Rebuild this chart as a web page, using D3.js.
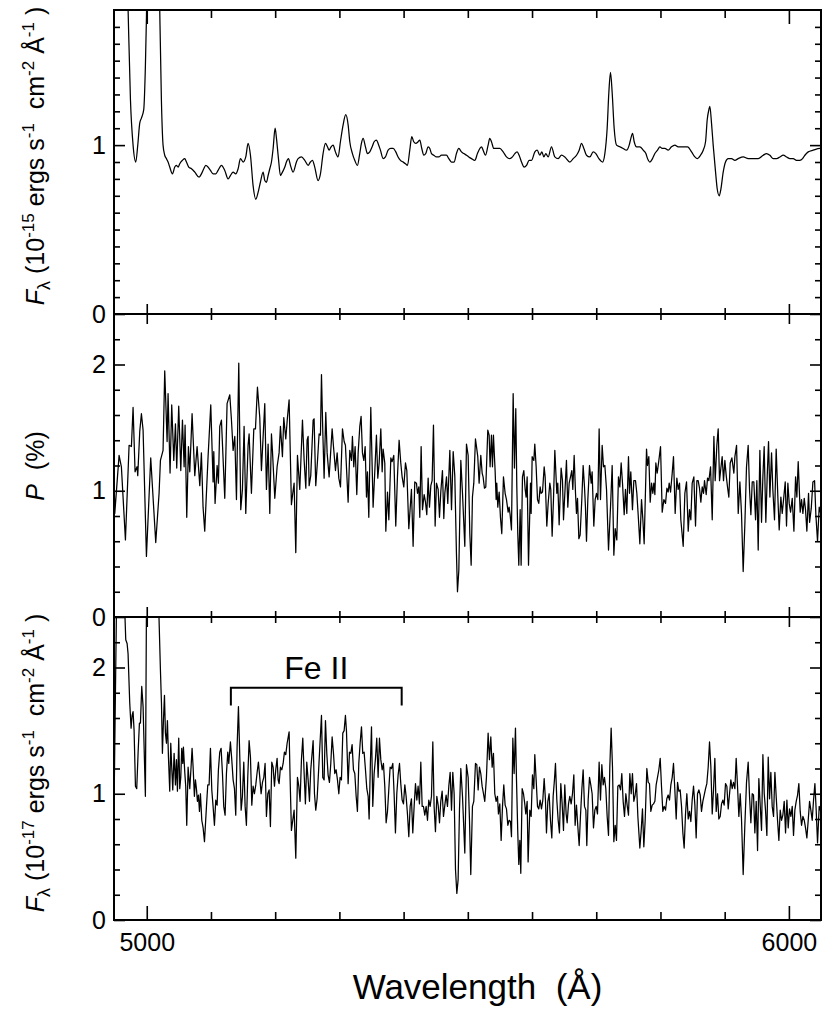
<!DOCTYPE html>
<html>
<head>
<meta charset="utf-8">
<script src="https://cdn.jsdelivr.net/npm/d3@7"></script>
<style>
  body { margin: 0; background: #fff; }
  svg text { font-family: 'Liberation Sans', Arial, Helvetica, sans-serif; fill: #000; }
</style>
</head>
<body>
<div id="chart"></div>
<script>
// ── Data: [wavelength (Å), value] ──

// Total flux, 10^-15 ergs s^-1 cm^-2 Å^-1 (the two [O III] peaks run off the top)
const totalFlux = [
  [4949,2.6],[4955,3.4],[4962,3.4],[4967,2.4],[4970.9,1.81],[4974.6,1.27],[4978.7,1.00],[4982.9,0.90],[4986.0,1.00],
  [4989.1,1.13],[4991.7,1.16],[4995.3,1.21],[4997.9,1.47],[4999.5,1.75],[5003,2.6],[5010,4.2],[5017,2.6],[5020.2,1.81],
  [5022.8,1.27],[5025.4,1.00],[5028.0,0.94],[5030.6,0.92],[5033.2,0.90],[5035.8,0.87],[5040.0,0.83],[5043.6,0.87],
  [5046.2,0.88],[5048.8,0.87],[5051.4,0.89],[5055.6,0.91],[5059.2,0.92],[5061.8,0.90],[5065.4,0.87],[5069.6,0.86],
  [5074.8,0.84],[5081.5,0.81],[5085.1,0.83],[5088.8,0.86],[5091.9,0.88],[5095.5,0.87],[5099.2,0.85],[5103.3,0.83],
  [5107.5,0.83],[5111.1,0.85],[5116.3,0.88],[5121.5,0.85],[5126.7,0.80],[5130.3,0.82],[5134.5,0.84],[5138.6,0.83],
  [5142.3,0.86],[5145.9,0.92],[5150.1,0.90],[5154.2,0.93],[5157.8,1.01],[5161.5,0.94],[5165.6,0.76],[5169.8,0.68],
  [5173.4,0.72],[5177.0,0.78],[5181.2,0.84],[5183.8,0.79],[5186.4,0.78],[5189.0,0.82],[5191.6,0.86],[5194.2,0.90],
  [5196.8,0.98],[5199.9,1.10],[5202.0,1.04],[5205.1,0.92],[5208.2,0.82],[5211.3,0.84],[5215.0,0.87],[5217.5,0.90],
  [5220.7,0.92],[5223.8,0.88],[5227.9,0.84],[5233.1,0.90],[5235.7,0.92],[5240.9,0.93],[5246.1,0.91],[5251.3,0.88],
  [5254.9,0.90],[5258.0,0.91],[5261.6,0.87],[5266.8,0.79],[5270.5,0.83],[5274.6,0.95],[5278.3,1.01],[5281.4,0.99],
  [5284.0,0.97],[5287.1,0.99],[5290.2,1.00],[5293.8,0.96],[5298.0,0.93],[5301.6,1.02],[5305.8,1.12],[5309.9,1.18],
  [5313.6,1.12],[5316.2,1.02],[5320.3,0.95],[5323.9,0.91],[5328.1,0.88],[5331.7,0.95],[5334.3,1.01],[5336.9,1.04],
  [5340.6,0.99],[5343.7,0.95],[5347.3,0.96],[5351.0,0.99],[5354.1,1.02],[5357.7,1.03],[5360.3,1.01],[5363.9,0.97],
  [5368.1,0.92],[5371.7,0.93],[5375.9,0.97],[5380.0,0.98],[5383.7,0.98],[5387.8,0.96],[5391.4,0.93],[5395.1,0.91],
  [5399.2,0.90],[5402.9,0.89],[5406.0,0.88],[5409.6,0.97],[5412.7,1.05],[5415.8,1.02],[5419.0,1.01],[5422.6,1.02],
  [5425.2,1.03],[5428.3,0.98],[5431.4,0.94],[5434.5,0.95],[5438.2,0.99],[5440.8,0.98],[5443.4,0.95],[5447.0,0.94],
  [5451.1,0.93],[5454.8,0.93],[5458.9,0.94],[5462.6,0.94],[5466.7,0.94],[5470.4,0.92],[5474.5,0.90],[5478.7,0.90],
  [5482.3,0.95],[5486.0,0.98],[5490.1,0.96],[5493.7,0.95],[5497.9,0.94],[5501.5,0.93],[5505.7,0.92],[5510.9,0.91],
  [5515.0,0.95],[5518.7,0.98],[5521.3,0.99],[5523.8,0.97],[5527.5,0.94],[5531.6,1.00],[5534.2,1.04],[5536.8,1.02],
  [5540.5,0.98],[5544.6,0.98],[5549.8,0.98],[5555.0,0.96],[5560.2,0.93],[5565.4,0.92],[5569.5,0.93],[5573.2,0.95],
  [5576.8,0.96],[5579.9,0.94],[5583.6,0.90],[5587.7,0.87],[5591.4,0.88],[5595.5,0.91],[5599.2,0.91],[5604.4,0.96],
  [5608.0,0.97],[5612.2,0.94],[5615.3,0.96],[5618.4,0.93],[5621.5,0.95],[5625.1,0.93],[5630.3,0.99],[5635.5,0.93],
  [5640.7,0.92],[5645.9,0.94],[5651.1,0.93],[5658.9,0.90],[5664.1,0.92],[5669.3,0.94],[5673.4,0.97],[5677.1,1.01],
  [5680.7,0.98],[5684.8,0.94],[5690.0,0.93],[5695.2,0.96],[5699.4,0.95],[5704.1,0.92],[5709.8,0.90],[5713.4,0.95],
  [5717.0,1.10],[5719.6,1.31],[5722.2,1.43],[5724.8,1.31],[5727.9,1.10],[5731.6,1.00],[5736.8,0.99],[5742.0,0.98],
  [5747.1,0.97],[5751.3,1.00],[5753.9,1.04],[5756.5,1.07],[5759.1,1.02],[5762.7,0.99],[5767.9,0.99],[5773.1,0.97],
  [5777.3,0.95],[5779.9,0.92],[5783.5,0.90],[5787.6,0.92],[5791.3,0.95],[5795.4,0.97],[5799.1,0.99],[5802.7,0.98],
  [5806.9,0.98],[5812.0,0.97],[5817.2,0.99],[5822.4,1.00],[5827.6,0.99],[5835.4,0.99],[5842.2,0.99],[5848.4,0.96],
  [5853.6,0.93],[5857.7,0.92],[5862.4,0.94],[5866.6,0.97],[5870.2,1.02],[5872.8,1.15],[5875.4,1.21],[5876.9,1.23],
  [5879.5,1.13],[5882.1,1.00],[5885.8,0.84],[5888.4,0.74],[5891.5,0.70],[5894.1,0.74],[5897.7,0.84],[5901.3,0.90],
  [5905.5,0.92],[5910.7,0.92],[5915.9,0.91],[5921.1,0.92],[5928.9,0.93],[5936.7,0.92],[5944.4,0.92],[5952.2,0.92],
  [5960.0,0.94],[5965.2,0.95],[5970.4,0.94],[5975.6,0.92],[5980.8,0.92],[5986.0,0.93],[5991.2,0.94],[5996.4,0.93],
  [6001.6,0.92],[6006.7,0.92],[6011.9,0.91],[6017.1,0.91],[6021.3,0.92],[6024.9,0.94],[6030.1,0.96],[6037.9,0.97],
  [6048.3,0.98],[6051,0.98]
];

// Polarization, %
const polarization = [
  [4949.3,1.05],[4950.2,0.82],[4956.9,1.28],[4960.5,1.19],[4966.8,0.61],[4972.5,1.36],[4976.1,1.35],[4978.7,1.66],
  [4981.8,1.15],[4984.9,1.19],[4986.0,1.12],[4989.1,1.47],[4991.7,1.61],[4994.3,1.48],[4999.5,0.48],[5006.2,1.26],
  [5014.0,0.59],[5019.2,0.98],[5021.3,1.24],[5025.4,1.32],[5028.0,1.95],[5031.7,1.39],[5033.2,1.77],[5036.3,1.14],
  [5038.9,1.68],[5042.1,1.24],[5044.7,1.53],[5046.7,1.18],[5049.8,1.67],[5053.0,1.16],[5055.6,1.56],[5058.2,1.19],
  [5059.7,1.52],[5062.3,0.79],[5064.9,1.35],[5067.0,1.15],[5070.6,1.61],[5074.8,1.12],[5078.4,1.35],[5082.6,1.04],
  [5085.1,1.30],[5087.7,0.87],[5090.3,0.68],[5095.5,1.27],[5099.7,1.68],[5103.3,1.07],[5104.4,1.31],[5106.4,0.90],
  [5109.6,1.20],[5111.6,1.06],[5113.7,1.51],[5116.3,1.56],[5121.5,0.94],[5125.1,1.69],[5129.3,1.76],[5131.9,1.56],
  [5134.5,1.32],[5137.1,1.43],[5139.7,0.93],[5143.3,2.01],[5146.4,0.85],[5149.0,1.01],[5151.6,1.51],[5154.2,0.82],
  [5157.8,1.36],[5159.4,1.45],[5163.0,0.98],[5166.7,1.49],[5169.3,1.49],[5172.4,1.82],[5176.0,1.58],[5178.6,1.16],
  [5183.8,1.69],[5186.4,1.01],[5189.0,1.37],[5191.6,0.82],[5194.2,1.45],[5195.7,1.32],[5199.4,0.94],[5203.0,1.19],
  [5206.1,1.30],[5208.2,1.51],[5211.3,1.27],[5213.4,1.58],[5216.5,1.41],[5219.1,1.58],[5221.7,1.72],[5225.3,0.89],
  [5227.4,0.98],[5229.5,1.06],[5232.1,0.51],[5234.7,1.28],[5238.3,1.01],[5242.5,1.56],[5245.1,1.24],[5247.7,1.02],
  [5249.7,1.40],[5251.3,1.43],[5252.9,1.04],[5255.4,1.12],[5259.1,1.56],[5260.6,1.57],[5263.2,1.04],[5265.8,1.23],
  [5268.4,1.45],[5270.5,1.44],[5272.1,1.92],[5274.1,1.48],[5276.2,1.10],[5278.8,1.62],[5280.9,1.30],[5284.0,1.11],
  [5286.6,1.32],[5288.7,1.49],[5290.8,1.35],[5293.9,1.16],[5296.5,1.30],[5299.1,1.10],[5301.7,1.03],[5304.8,1.49],
  [5307.4,1.39],[5309.4,1.36],[5313.6,0.91],[5316.2,1.32],[5318.8,1.24],[5320.3,1.43],[5322.4,1.19],[5324.5,1.35],
  [5327.1,0.97],[5329.2,1.30],[5331.8,1.51],[5333.8,1.59],[5335.9,1.30],[5338.0,1.24],[5340.1,1.35],[5342.2,0.95],
  [5343.7,1.15],[5345.8,0.79],[5348.9,1.66],[5352.5,0.87],[5355.1,1.15],[5357.7,1.44],[5359.8,1.10],[5361.9,1.22],
  [5364.5,1.49],[5366.6,1.15],[5368.1,1.33],[5370.7,1.22],[5372.3,0.68],[5374.9,0.99],[5377.0,0.77],[5380.1,1.26],
  [5382.1,1.23],[5384.7,1.28],[5387.8,0.72],[5390.4,1.11],[5393.0,1.40],[5395.6,1.22],[5397.7,1.11],[5400.3,1.03],
  [5402.9,1.22],[5405.0,1.16],[5408.1,0.70],[5412.2,1.01],[5414.8,0.56],[5417.4,1.07],[5420.0,1.06],[5421.6,0.98],
  [5423.7,1.03],[5425.2,0.79],[5427.3,1.35],[5429.4,0.85],[5432.0,0.97],[5434.1,0.91],[5436.1,0.81],[5438.2,1.10],
  [5440.3,0.87],[5442.4,1.04],[5444.4,1.08],[5446.5,1.52],[5449.1,0.72],[5451.2,1.06],[5453.8,1.01],[5455.9,0.79],
  [5457.9,0.99],[5460.5,1.16],[5462.6,0.78],[5464.2,0.98],[5466.8,1.11],[5468.8,0.90],[5472.0,1.32],[5474.6,0.85],
  [5477.2,1.31],[5479.7,1.12],[5482.3,0.50],[5483.9,0.20],[5486.0,0.37],[5489.1,1.24],[5491.7,0.98],[5495.3,0.56],
  [5497.9,1.37],[5500.5,1.28],[5503.1,0.66],[5505.2,0.41],[5507.2,0.95],[5509.3,1.06],[5511.9,1.41],[5513.5,1.35],
  [5515.5,1.27],[5517.6,1.06],[5520.2,1.28],[5522.3,1.14],[5523.8,1.11],[5525.9,1.02],[5528.0,1.03],[5531.1,1.48],
  [5533.2,1.44],[5534.7,1.19],[5536.8,1.44],[5538.4,1.19],[5539.9,1.44],[5542.5,1.16],[5544.1,0.93],[5545.1,1.06],
  [5546.7,0.87],[5548.8,0.99],[5550.8,0.79],[5552.9,0.66],[5555.5,1.11],[5558.1,0.98],[5560.2,0.93],[5562.8,0.83],
  [5564.3,0.87],[5565.9,0.81],[5568.0,0.69],[5570.6,1.77],[5572.6,1.18],[5574.7,1.65],[5576.3,1.03],[5577.8,0.66],
  [5579.4,0.41],[5581.5,0.85],[5583.0,0.41],[5585.1,1.11],[5587.2,1.16],[5589.3,1.01],[5590.8,0.95],[5592.4,1.11],
  [5594.5,0.41],[5597.6,1.06],[5598.6,0.82],[5600.2,1.27],[5602.8,1.24],[5604.3,1.37],[5606.4,1.19],[5608.5,0.93],
  [5610.5,0.90],[5612.6,1.03],[5614.2,0.98],[5616.3,0.99],[5618.9,1.19],[5620.4,1.11],[5623.0,0.72],[5625.1,0.90],
  [5627.7,1.06],[5629.2,1.01],[5631.3,0.64],[5633.4,0.93],[5635.5,1.32],[5638.6,0.98],[5640.1,1.06],[5642.2,0.73],
  [5645.3,1.18],[5647.4,1.08],[5649.0,0.77],[5651.6,1.03],[5653.6,1.24],[5655.7,0.87],[5657.8,1.06],[5659.9,1.11],
  [5661.9,1.16],[5663.5,1.01],[5665.6,1.28],[5667.7,0.98],[5669.2,0.82],[5670.8,0.94],[5672.9,0.62],[5674.9,0.65],
  [5677.5,0.93],[5679.6,1.20],[5681.7,1.03],[5683.2,0.87],[5684.8,0.60],[5686.9,0.93],[5689.5,1.20],[5692.1,1.06],
  [5693.6,1.15],[5696.2,0.72],[5698.3,0.93],[5700.4,0.98],[5702.5,0.93],[5704.5,1.49],[5706.6,0.93],[5709.2,1.36],
  [5711.3,1.19],[5713.4,1.20],[5716.0,1.01],[5719.1,0.53],[5722.2,0.87],[5724.8,1.20],[5727.4,0.49],[5729.5,0.70],
  [5732.0,0.61],[5734.6,1.11],[5736.7,1.03],[5738.8,1.22],[5740.9,1.06],[5743.5,0.81],[5745.5,1.01],[5747.6,0.82],
  [5750.2,1.27],[5751.8,0.98],[5753.8,1.15],[5756.4,0.85],[5758.5,1.08],[5761.1,1.08],[5763.2,0.98],[5765.3,0.81],
  [5767.9,0.58],[5770.5,0.93],[5772.6,0.77],[5774.6,0.58],[5778.3,1.33],[5779.8,1.20],[5781.9,1.27],[5784.0,0.91],
  [5786.1,1.06],[5788.1,0.98],[5789.7,1.06],[5791.3,0.97],[5792.8,1.22],[5794.9,1.14],[5797.5,1.24],[5800.1,1.35],
  [5802.7,0.83],[5805.3,0.93],[5807.9,0.90],[5810.0,1.02],[5812.0,0.99],[5813.6,1.06],[5815.7,0.99],[5818.3,1.14],
  [5820.3,1.27],[5822.9,0.82],[5825.5,1.10],[5827.6,1.01],[5829.7,1.06],[5831.7,0.77],[5835.4,0.56],[5838.0,0.98],
  [5840.6,1.07],[5843.2,0.68],[5845.2,0.85],[5847.3,0.77],[5849.4,1.06],[5852.0,1.11],[5854.6,0.72],[5856.7,1.08],
  [5858.7,1.08],[5860.8,1.02],[5862.9,0.91],[5865.0,1.03],[5867.1,0.98],[5868.6,1.08],[5871.2,0.97],[5873.3,1.10],
  [5875.4,1.08],[5878.0,1.19],[5880.6,0.77],[5883.2,1.43],[5885.2,1.08],[5887.8,1.36],[5889.9,1.49],[5892.0,1.08],
  [5894.1,1.18],[5896.1,1.27],[5898.2,1.08],[5900.3,1.24],[5902.4,1.12],[5904.4,1.03],[5906.5,0.95],[5908.6,1.22],
  [5911.2,1.26],[5914.3,1.14],[5915.9,1.27],[5918.5,1.36],[5921.1,0.82],[5923.7,1.07],[5926.2,0.82],[5928.8,0.36],
  [5931.4,0.73],[5934.0,1.19],[5936.6,1.36],[5938.7,1.01],[5940.8,0.81],[5942.9,1.07],[5945.4,1.07],[5948.1,0.77],
  [5950.1,1.08],[5952.2,0.53],[5954.8,1.32],[5957.4,0.75],[5959.5,1.11],[5961.5,1.35],[5964.1,0.75],[5966.2,1.11],
  [5968.3,1.39],[5970.4,0.95],[5973.0,1.30],[5975.0,1.01],[5977.6,0.77],[5980.2,1.33],[5982.8,0.95],[5984.9,0.69],
  [5987.5,0.95],[5989.6,0.82],[5991.7,0.93],[5994.3,1.07],[5996.3,0.72],[5998.4,1.06],[6000.5,0.90],[6002.6,0.83],
  [6005.2,0.94],[6007.8,0.68],[6010.4,1.11],[6012.4,0.95],[6014.5,1.23],[6017.6,0.83],[6019.7,0.93],[6021.8,0.82],
  [6023.9,0.94],[6025.9,0.85],[6028.0,0.68],[6030.6,0.98],[6032.2,0.75],[6034.8,0.86],[6037.4,1.07],[6040.0,1.08],
  [6042.0,0.81],[6044.6,0.60],[6047.2,0.87],[6050.9,0.79]
];

// Polarized flux, 10^-17 ergs s^-1 cm^-2 Å^-1
const polarizedFlux = [
  [4949.5,1.08],[4952.8,2.45],[4957,3.3],[4962,3.3],[4966.3,2.37],[4967.3,2.22],[4969.4,2.19],[4970.9,2.11],
  [4973.5,1.72],[4975.6,1.52],[4977.2,1.62],[4978.7,1.65],[4980.3,1.50],[4982.4,1.06],[4984.4,1.04],[4986.5,1.32],
  [4988.6,1.56],[4990.2,1.56],[4992.2,1.85],[4994.3,1.69],[4996.4,1.27],[4997.9,0.98],[4999.5,2.45],[5004,4.0],
  [5012,4.0],[5019.2,2.37],[5021.3,1.98],[5022.9,1.72],[5024.4,1.32],[5026.0,1.58],[5027.6,1.78],[5029.1,1.48],
  [5030.7,1.40],[5032.2,1.58],[5033.8,1.29],[5035.8,1.02],[5037.4,1.40],[5038.9,1.21],[5040.5,1.03],[5042.6,1.32],
  [5044.7,1.07],[5046.2,1.27],[5047.8,1.02],[5049.8,1.44],[5051.4,1.04],[5053.0,1.13],[5054.5,1.36],[5056.1,1.24],
  [5057.1,1.37],[5059.2,1.17],[5060.7,1.06],[5062.3,0.75],[5064.4,1.21],[5067.0,1.04],[5069.0,1.21],[5070.6,1.36],
  [5072.2,1.21],[5074.2,0.98],[5075.8,1.11],[5077.4,1.04],[5078.9,0.94],[5080.5,0.99],[5082.1,0.86],[5083.6,1.00],
  [5085.7,0.79],[5087.8,0.73],[5089.9,0.62],[5093.0,0.90],[5095.0,1.07],[5097.1,1.07],[5099.2,1.36],[5101.3,1.03],
  [5103.3,0.90],[5105.4,0.75],[5107.5,0.95],[5109.6,0.91],[5111.6,1.19],[5113.7,1.33],[5115.8,1.36],[5117.9,1.16],
  [5119.9,0.90],[5122.0,0.83],[5124.1,1.16],[5126.2,1.33],[5127.7,1.24],[5130.3,1.41],[5132.4,1.27],[5134.5,1.11],
  [5136.6,1.04],[5138.6,0.83],[5140.7,1.37],[5142.8,1.69],[5144.9,1.29],[5147.0,0.87],[5149.0,0.98],[5151.1,1.25],
  [5153.2,0.90],[5155.2,0.75],[5157.3,1.13],[5159.4,1.42],[5161.5,1.29],[5163.6,0.91],[5165.6,1.06],[5167.7,1.00],
  [5169.8,1.07],[5171.9,1.17],[5173.9,1.25],[5176.0,1.13],[5178.1,1.00],[5180.2,1.09],[5182.3,1.13],[5184.3,1.24],
  [5186.4,0.82],[5188.5,1.00],[5190.6,1.03],[5192.6,0.74],[5194.7,1.25],[5196.8,1.21],[5198.9,1.06],[5200.9,1.19],
  [5203.0,1.28],[5204.6,1.11],[5206.1,1.08],[5208.2,1.21],[5210.3,1.19],[5212.4,1.24],[5214.4,1.33],[5216.5,1.31],
  [5218.6,1.40],[5221.7,1.49],[5223.3,1.11],[5225.3,0.71],[5227.4,0.79],[5229.5,0.87],[5232.1,0.49],[5234.7,1.13],
  [5236.8,1.06],[5238.8,0.94],[5240.9,1.27],[5243.0,1.44],[5245.1,1.16],[5247.1,0.92],[5249.2,1.25],[5251.3,1.11],
  [5253.4,0.94],[5255.4,1.19],[5257.5,1.32],[5259.1,1.42],[5261.2,1.00],[5263.2,0.87],[5265.3,0.96],[5267.4,1.16],
  [5269.5,1.37],[5272.1,1.62],[5274.1,1.13],[5276.2,1.11],[5278.3,1.58],[5280.4,1.32],[5282.4,1.15],[5284.5,1.09],
  [5286.6,1.24],[5288.7,1.45],[5290.8,1.32],[5292.8,1.16],[5294.9,1.19],[5297.0,1.11],[5299.1,1.00],[5301.1,1.13],
  [5303.2,1.11],[5305.3,1.48],[5307.4,1.50],[5309.4,1.62],[5311.0,1.50],[5313.6,1.08],[5315.7,1.33],[5317.8,1.32],
  [5319.8,1.39],[5321.9,1.19],[5324.0,1.16],[5326.1,0.98],[5328.1,0.86],[5330.2,1.24],[5332.3,1.40],[5334.4,1.53],
  [5336.4,1.32],[5338.5,1.33],[5340.6,1.19],[5342.7,1.04],[5344.8,0.98],[5346.3,0.80],[5348.4,1.27],[5350.0,1.53],
  [5352.0,0.90],[5354.1,1.16],[5356.2,1.28],[5358.2,1.44],[5360.3,1.13],[5362.4,1.44],[5364.5,1.27],[5366.6,1.19],
  [5368.6,1.24],[5370.7,1.06],[5372.8,0.77],[5374.9,0.86],[5376.9,1.03],[5379.0,1.21],[5381.1,1.20],[5383.2,1.24],
  [5385.2,1.00],[5387.3,0.69],[5389.4,1.00],[5391.5,1.15],[5393.6,1.24],[5395.6,1.08],[5397.7,0.95],[5399.8,0.92],
  [5401.9,1.07],[5403.9,0.98],[5406.0,0.84],[5408.1,0.66],[5410.2,0.90],[5412.2,0.96],[5414.3,0.69],[5416.4,0.90],
  [5418.5,1.08],[5420.6,0.95],[5422.6,1.06],[5424.7,0.92],[5426.8,1.25],[5428.9,0.90],[5430.9,0.90],[5433.0,0.83],
  [5435.1,0.90],[5437.2,0.79],[5439.2,0.95],[5441.3,0.90],[5443.4,0.98],[5445.5,1.41],[5447.5,0.90],[5449.6,0.70],
  [5451.7,0.98],[5453.8,0.91],[5455.9,0.77],[5457.9,0.94],[5460.0,1.02],[5462.1,0.82],[5464.2,0.91],[5466.2,0.99],
  [5468.3,0.90],[5470.4,1.06],[5472.5,1.17],[5474.6,0.87],[5476.6,1.17],[5478.7,1.00],[5480.8,0.40],[5482.9,0.21],
  [5484.9,0.32],[5487.0,0.87],[5489.1,1.20],[5491.7,0.98],[5495.3,0.53],[5497.9,1.23],[5500.5,1.13],[5502.6,0.79],
  [5504.6,0.36],[5507.2,0.90],[5509.3,0.94],[5511.9,1.24],[5514.0,1.23],[5516.1,1.03],[5518.1,1.21],[5520.2,1.16],
  [5522.3,1.06],[5524.4,1.00],[5526.4,0.94],[5529.0,1.13],[5531.6,1.48],[5533.7,1.27],[5535.8,1.45],[5537.9,1.21],
  [5539.9,1.32],[5542.0,1.00],[5544.1,0.94],[5546.2,0.98],[5547.7,0.84],[5549.8,0.92],[5551.9,0.63],[5554.0,0.90],
  [5556.0,1.07],[5558.1,0.91],[5560.2,0.88],[5562.3,0.75],[5564.3,0.79],[5566.4,0.78],[5568.0,0.66],[5570.1,1.44],
  [5572.1,1.16],[5574.2,1.52],[5575.8,1.11],[5577.8,0.69],[5579.4,0.44],[5581.0,0.63],[5582.5,0.37],[5584.6,1.04],
  [5586.7,1.00],[5588.7,0.92],[5590.3,0.84],[5592.4,0.94],[5593.9,0.46],[5596.5,0.87],[5598.6,0.82],[5600.7,1.15],
  [5602.8,1.04],[5604.3,1.31],[5606.4,1.11],[5608.5,0.90],[5610.5,0.88],[5612.6,0.95],[5614.7,0.88],[5616.8,0.95],
  [5618.9,1.12],[5620.9,0.95],[5622.5,0.69],[5624.6,0.94],[5626.6,1.00],[5628.7,0.79],[5630.8,0.65],[5632.9,0.98],
  [5634.9,1.11],[5636.5,1.24],[5638.6,0.95],[5640.7,0.79],[5642.7,0.69],[5644.8,1.08],[5646.9,0.92],[5649.0,0.71],
  [5651.0,1.07],[5653.1,0.84],[5654.7,0.77],[5656.8,0.92],[5658.8,0.98],[5660.9,0.92],[5663.0,1.00],[5665.1,1.15],
  [5667.1,0.75],[5669.2,0.91],[5671.3,0.74],[5673.4,0.59],[5675.4,0.82],[5677.5,1.03],[5679.6,1.19],[5681.7,0.90],
  [5683.8,0.87],[5685.3,0.59],[5687.4,0.95],[5689.5,1.13],[5691.5,1.07],[5693.6,1.00],[5695.7,0.73],[5697.8,0.87],
  [5699.9,0.90],[5701.9,0.84],[5704.5,1.25],[5706.6,0.95],[5708.7,1.23],[5710.8,1.07],[5712.8,1.13],[5714.9,1.04],
  [5717.0,0.82],[5719.1,0.67],[5721.1,1.21],[5723.2,1.52],[5725.3,1.21],[5727.4,0.62],[5729.5,0.75],[5731.5,0.63],
  [5733.6,1.06],[5735.7,1.07],[5737.8,1.03],[5739.8,1.16],[5741.9,0.94],[5744.0,0.82],[5746.1,1.00],[5748.1,0.91],
  [5750.2,0.83],[5752.3,1.16],[5754.4,1.00],[5756.4,1.16],[5758.5,0.94],[5760.6,0.99],[5762.7,1.08],[5764.8,0.82],
  [5767.9,0.57],[5770.0,0.71],[5772.0,0.88],[5774.1,0.58],[5776.2,0.79],[5778.8,1.20],[5780.9,1.09],[5782.9,1.08],
  [5785.0,0.86],[5787.1,0.91],[5789.2,0.92],[5791.3,0.94],[5793.3,1.07],[5795.4,1.13],[5797.5,1.19],[5799.6,1.28],
  [5801.6,1.06],[5803.7,0.86],[5805.8,0.90],[5807.9,0.87],[5809.9,0.96],[5812.0,0.99],[5814.1,0.95],[5816.2,1.07],
  [5818.3,1.13],[5820.3,1.24],[5822.4,1.03],[5824.5,0.80],[5826.6,1.09],[5828.6,1.02],[5830.7,1.03],[5832.8,0.90],
  [5834.9,0.69],[5836.9,0.57],[5839.0,0.84],[5841.1,1.00],[5843.2,0.80],[5845.2,0.86],[5847.3,0.78],[5849.4,0.95],
  [5851.5,1.06],[5853.6,0.91],[5855.6,0.65],[5857.7,1.00],[5859.8,1.03],[5861.9,0.99],[5863.9,0.86],[5866.0,0.94],
  [5868.1,0.99],[5870.2,1.04],[5872.2,1.08],[5874.3,1.21],[5876.4,1.41],[5878.5,1.21],[5880.6,0.84],[5882.6,1.03],
  [5884.7,1.28],[5886.8,0.86],[5888.9,1.00],[5890.9,0.80],[5893.0,0.82],[5895.1,0.92],[5897.2,0.95],[5899.2,0.91],
  [5901.3,1.08],[5903.4,1.06],[5905.5,0.88],[5907.6,1.00],[5909.6,1.11],[5911.7,1.04],[5913.8,1.09],[5915.9,1.04],
  [5917.9,1.28],[5920.0,1.06],[5922.1,0.82],[5924.2,1.00],[5926.2,0.80],[5928.8,0.36],[5931.4,0.75],[5934.0,1.09],
  [5936.6,1.25],[5938.7,0.98],[5940.8,0.77],[5942.9,1.00],[5944.9,0.99],[5947.0,0.69],[5949.1,0.94],[5951.2,0.55],
  [5953.2,1.12],[5955.3,0.91],[5957.4,0.71],[5959.5,1.31],[5961.6,1.00],[5963.6,0.87],[5965.7,0.67],[5967.8,1.29],
  [5969.9,0.96],[5971.9,1.17],[5974.0,0.90],[5976.1,0.82],[5978.2,1.17],[5980.2,0.98],[5982.3,0.79],[5984.4,0.63],
  [5986.5,0.87],[5988.5,0.79],[5990.6,0.83],[5992.7,0.94],[5994.8,0.69],[5996.9,0.95],[5998.9,0.73],[6001.0,0.88],
  [6003.1,0.82],[6005.2,0.90],[6007.2,0.67],[6009.3,0.87],[6011.4,0.94],[6013.5,0.99],[6015.5,1.08],[6017.6,0.86],
  [6019.7,0.75],[6021.8,0.82],[6023.9,0.79],[6025.9,0.73],[6028.0,0.65],[6030.1,0.79],[6032.2,0.94],[6034.2,0.87],
  [6036.3,0.79],[6038.4,0.95],[6040.5,1.08],[6042.5,0.87],[6044.6,0.61],[6047.2,0.90],[6050.9,0.84]
];

// Axis tick values
const xLabelTicks = [5000, 6000];
const xMinorTicks = [5100, 5200, 5300, 5400, 5500, 5600, 5700, 5800, 5900];
const fluxTopLabelTicks = [0, 1];
const pctLabelTicks = [0, 1, 2];

// Fe II bracket: wavelength range and level in the bottom panel
const feIIRange = [5131, 5397];
const feIILevel = 1.84;
const feIILabel = 'Fe II';

// ── Layout ──
const width = 830, height = 1021;
const plotLeft = 114, plotRight = 821;
const FONT = "'Liberation Sans', Arial, Helvetica, sans-serif";

const panels = [
  { data: totalFlux, top: 10, bottom: 314, yMax: 1.8, labelTicks: fluxTopLabelTicks, minorStep: 0.1,
    curve: d3.curveMonotoneX, label: 'flux15', labelY: 156 },
  { data: polarization, top: 314, bottom: 617, yMax: 2.4, labelTicks: pctLabelTicks, minorStep: 0.2,
    curve: d3.curveLinear, label: 'pol', labelY: 466 },
  { data: polarizedFlux, top: 617, bottom: 920, yMax: 2.4, labelTicks: pctLabelTicks, minorStep: 0.2,
    curve: d3.curveLinear, label: 'flux17', labelY: 763 },
];

const svg = d3.select('#chart').append('svg')
  .attr('width', width)
  .attr('height', height)
  .attr('viewBox', [0, 0, width, height]);

const x = d3.scaleLinear().domain([4949, 6050]).range([plotLeft, plotRight]);

panels.forEach((p, i) => {
  const y = d3.scaleLinear().domain([0, p.yMax]).range([p.bottom, p.top]);
  p.y = y;
  const g = svg.append('g');

  // Clip so off-scale lines stop at the frame
  const clipId = `clip-${i}`;
  svg.append('clipPath').attr('id', clipId)
    .append('rect')
    .attr('x', plotLeft).attr('y', p.top)
    .attr('width', plotRight - plotLeft).attr('height', p.bottom - p.top);

  const line = d3.line()
    .x(d => x(d[0]))
    .y(d => y(d[1]))
    .curve(p.curve);

  g.append('path')
    .datum(p.data)
    .attr('clip-path', `url(#${clipId})`)
    .attr('fill', 'none')
    .attr('stroke', '#000')
    .attr('stroke-width', 1.25)
    .attr('stroke-linejoin', 'round')
    .attr('d', line);

  // Y ticks (inward, both sides)
  const minor = d3.range(p.minorStep, p.yMax - 1e-6, p.minorStep)
    .filter(v => !p.labelTicks.some(t => Math.abs(t - v) < 1e-6));

  const yAxes = [
    [d3.axisLeft(y).tickValues(p.labelTicks).tickSizeInner(-11).tickSizeOuter(0).tickPadding(8)
      .tickFormat(d3.format('d')), plotLeft],
    [d3.axisLeft(y).tickValues(minor).tickSizeInner(-6).tickSizeOuter(0).tickFormat(''), plotLeft],
    [d3.axisRight(y).tickValues(p.labelTicks).tickSizeInner(-11).tickSizeOuter(0).tickFormat(''), plotRight],
    [d3.axisRight(y).tickValues(minor).tickSizeInner(-6).tickSizeOuter(0).tickFormat(''), plotRight],
  ];
  yAxes.forEach(([axis, xPos]) => {
    const a = g.append('g').attr('transform', `translate(${xPos},0)`).call(axis);
    a.select('.domain').remove();
    a.selectAll('line').attr('stroke', '#000').attr('stroke-width', 1.6);
    a.selectAll('text').attr('font-family', FONT).attr('font-size', '25px').attr('fill', '#000');
  });

  // X ticks (inward): outer edges are longer than the shared ones
  const topMajor = i === 0 ? 14 : 10, topMinor = i === 0 ? 8 : 6;
  const botMajor = i === 2 ? 14 : 10, botMinor = i === 2 ? 8 : 6;
  const xAxes = [
    [d3.axisTop(x).tickValues(xLabelTicks).tickSizeInner(-topMajor), p.top],
    [d3.axisTop(x).tickValues(xMinorTicks).tickSizeInner(-topMinor), p.top],
    [d3.axisBottom(x).tickValues(xLabelTicks).tickSizeInner(-botMajor), p.bottom],
    [d3.axisBottom(x).tickValues(xMinorTicks).tickSizeInner(-botMinor), p.bottom],
  ];
  xAxes.forEach(([axis, yPos], k) => {
    axis.tickSizeOuter(0);
    const showLabels = i === 2 && k === 2;
    if (showLabels) axis.tickPadding(13).tickFormat(d3.format('d'));
    else axis.tickFormat('');
    const a = g.append('g').attr('transform', `translate(0,${yPos})`).call(axis);
    a.select('.domain').remove();
    a.selectAll('line').attr('stroke', '#000').attr('stroke-width', 1.6);
    a.selectAll('text').attr('font-family', FONT).attr('font-size', '25px').attr('fill', '#000');
  });

  // Frame
  g.append('rect')
    .attr('x', plotLeft).attr('y', p.top)
    .attr('width', plotRight - plotLeft).attr('height', p.bottom - p.top)
    .attr('fill', 'none')
    .attr('stroke', '#000')
    .attr('stroke-width', 2);

  // Y-axis title (rotated)
  const t = svg.append('text')
    .attr('transform', `translate(44,${p.labelY}) rotate(-90)`)
    .attr('text-anchor', 'middle')
    .attr('font-family', FONT)
    .attr('font-size', '25px')
    .attr('xml:space', 'preserve');

  if (p.label === 'pol') {
    t.append('tspan').attr('font-style', 'italic').text('P');
    t.append('tspan').text('  (%)');
  } else {
    const exp = p.label === 'flux15' ? '-15' : '-17';
    const parts = [
      ['F', 'italic', 0, 25],
      ['λ', 'sub', 6, 18],
      [' (10', '', -6, 25],
      [exp, 'sup', -10, 17],
      [' ergs s', '', 10, 25],
      ['-1', 'sup', -10, 17],
      ['  cm', '', 10, 25],
      ['-2', 'sup', -10, 17],
      [' Å', '', 10, 25],
      ['-1', 'sup', -10, 17],
      [' )', '', 10, 25],
    ];
    parts.forEach(([txt, kind, dy, size]) => {
      const s = t.append('tspan').attr('dy', dy).attr('font-size', size + 'px').text(txt);
      if (kind === 'italic') s.attr('font-style', 'italic');
    });
  }
});

// Fe II bracket in the bottom panel
const yBottom = panels[2].y;
const tickDrop = 0.14;
svg.append('path')
  .attr('d', d3.line()([
    [x(feIIRange[0]), yBottom(feIILevel - tickDrop)],
    [x(feIIRange[0]), yBottom(feIILevel)],
    [x(feIIRange[1]), yBottom(feIILevel)],
    [x(feIIRange[1]), yBottom(feIILevel - tickDrop)],
  ]))
  .attr('fill', 'none')
  .attr('stroke', '#000')
  .attr('stroke-width', 2);

svg.append('text')
  .attr('x', x((feIIRange[0] + feIIRange[1]) / 2))
  .attr('y', yBottom(feIILevel + 0.07))
  .attr('text-anchor', 'middle')
  .attr('font-family', FONT)
  .attr('font-size', '32px')
  .text(feIILabel);

// X-axis title
svg.append('text')
  .attr('x', (plotLeft + plotRight) / 2 + 10)
  .attr('y', 999)
  .attr('text-anchor', 'middle')
  .attr('font-family', FONT)
  .attr('font-size', '35px')
  .attr('xml:space', 'preserve')
  .text('Wavelength  (Å)');
</script>
</body>
</html>
